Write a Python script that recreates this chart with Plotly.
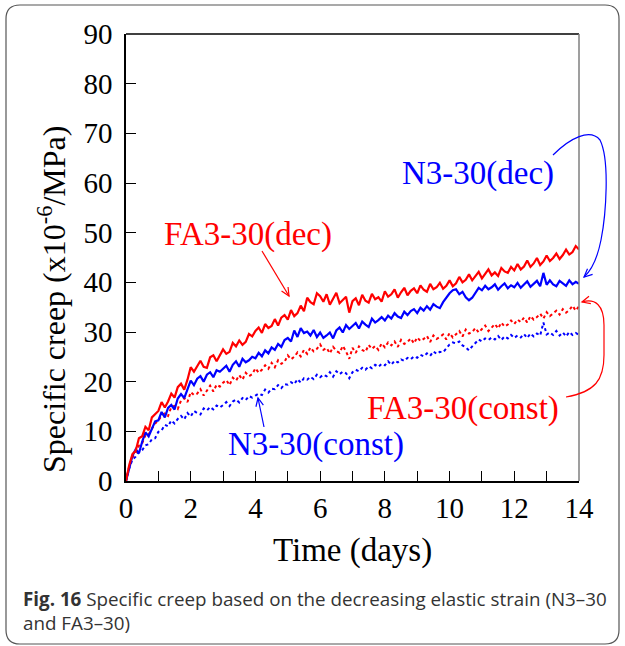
import math
import plotly.graph_objects as go

# ---------------- data ----------------
days = [round(i * 0.1, 1) for i in range(141)]

fa_dec = [0, 3.2, 5.4, 6.1, 8.6, 9.0, 10.9, 10.2, 12.8, 13.5,
          14.1, 15.9, 14.8, 16.0, 17.6, 16.8, 18.9, 19.6, 18.4, 20.4,
          22.9, 22.0, 23.1, 24.2, 23.0, 22.8, 24.9, 25.3, 24.1, 25.2,
          26.5, 25.6, 26.0, 27.8, 27.1, 28.3, 27.4, 28.0, 29.6, 29.1,
          30.2, 30.9, 29.8, 31.6, 30.8, 31.2, 32.6, 31.3, 32.9, 33.4,
          32.5, 34.4, 33.2, 33.8, 35.3, 34.2, 36.9, 36.0, 35.6, 37.8,
          37.2, 36.1, 37.6, 35.5, 36.6, 37.9, 35.8, 36.4, 37.1, 33.9,
          36.2, 36.8, 35.4, 37.5, 36.3, 35.9, 37.7, 36.6, 37.0, 36.1,
          38.2, 37.1, 37.6, 38.6, 36.9, 38.0, 38.9, 37.4, 38.3, 38.8,
          37.8, 39.4, 38.5, 38.1, 39.7, 38.6, 39.0, 39.9, 38.7, 39.3,
          40.4, 39.2, 39.8, 41.1, 40.0, 40.5, 41.6, 40.4, 41.2, 42.1,
          40.8, 41.7, 42.6, 41.4, 42.0, 41.3, 42.9, 42.2, 41.9, 43.1,
          42.4, 43.7, 42.6, 43.2, 44.4, 43.1, 43.8, 44.9, 43.5, 44.2,
          45.4, 44.3, 44.9, 45.8, 44.7, 45.5, 46.6, 45.6, 46.1, 47.3,
          46.6]

n_dec = [0, 2.8, 5.1, 6.4, 5.6, 7.9, 9.8, 9.0, 10.6, 12.0,
         12.2, 13.9, 12.8, 14.7, 15.3, 14.4, 16.6, 17.5, 16.7, 18.3,
         20.2, 19.3, 20.6, 21.1, 20.0, 21.4, 21.9, 20.9, 22.3, 22.0,
         22.6, 23.2, 22.0, 23.4, 24.1, 23.0, 24.6, 23.9, 24.3, 25.0,
         24.7, 25.8, 25.1, 26.3, 25.7, 26.9, 26.4, 27.6, 27.0, 28.4,
         28.8, 28.1, 30.3, 29.0, 30.8, 29.8, 30.1, 29.3, 30.4, 29.0,
         29.9, 28.8, 29.3, 29.9, 28.7, 30.3, 30.9, 29.9, 31.4, 30.6,
         31.2, 31.8, 30.7, 32.1, 31.5, 31.0, 32.7, 31.9, 32.4, 33.0,
         32.3, 33.3, 32.7, 33.8, 33.1, 32.8, 34.1, 33.4, 34.2, 34.6,
         33.8, 34.9, 34.3, 35.2, 34.5, 35.6, 35.1, 34.8, 36.0, 36.9,
         37.8, 38.4, 38.6, 37.6, 38.1, 37.0, 36.4, 36.9, 37.9, 38.9,
         38.4, 39.3, 38.6, 39.0, 39.6, 38.5, 39.2, 39.8, 38.8, 39.4,
         39.0, 39.9, 38.9, 39.5, 40.2, 39.1, 39.7, 40.3, 39.2, 41.9,
         39.5, 40.4, 39.6, 39.2, 40.3, 39.8, 39.3, 40.4, 39.6, 40.1,
         39.7]

fa_const = [0, 3.0, 4.8, 5.7, 7.1, 7.6, 9.2, 9.4, 10.5, 11.6,
            12.1, 13.2, 13.6, 13.1, 14.9, 15.1, 14.5, 16.2, 16.7, 15.9,
            17.9, 17.3, 17.6, 18.5, 17.2, 18.1, 19.2, 18.0, 19.4, 19.0,
            19.8, 20.3, 19.3, 20.8, 20.2, 21.3, 20.4, 21.8, 21.1, 21.5,
            22.7, 21.8, 22.4, 23.3, 22.6, 23.8, 22.9, 24.3, 23.6, 24.0,
            25.3, 24.5, 25.0, 25.9, 25.1, 26.4, 25.6, 26.9, 26.1, 26.6,
            27.5, 26.4, 26.8, 25.7, 27.0, 26.2, 25.8, 27.2, 26.1, 24.6,
            26.8, 25.8, 27.1, 26.4, 26.0, 27.4, 26.6, 27.2, 26.4, 27.7,
            26.9, 27.9, 27.3, 28.1, 27.0, 28.4, 27.6, 28.0, 28.7, 27.7,
            28.9, 28.2, 28.6, 29.2, 28.0, 29.3, 28.6, 29.0, 29.5, 28.5,
            29.8, 28.9, 29.6, 30.2, 29.1, 30.5, 29.7, 30.0, 30.8, 29.9,
            30.6, 31.3, 30.2, 31.0, 31.6, 30.7, 31.9, 31.1, 31.5, 32.3,
            31.6, 32.5, 32.0, 32.9, 31.9, 33.2, 32.5, 33.0, 33.7, 32.7,
            34.0, 33.2, 33.8, 34.3, 33.5, 34.6, 33.9, 34.4, 35.3, 34.3,
            35.2]

n_const = [0, 2.6, 4.3, 4.9, 5.8, 6.2, 7.2, 7.4, 8.4, 8.6,
           9.9, 10.2, 11.3, 11.0, 12.2, 11.6, 12.5, 13.1, 12.4, 13.7,
           13.0, 14.1, 13.7, 13.4, 14.6, 14.2, 14.9, 14.4, 15.2, 14.8,
           15.3, 15.9, 15.1, 16.0, 16.4, 15.8, 16.7, 16.3, 17.1, 16.8,
           17.2, 17.6, 17.3, 18.4, 17.8, 18.6, 18.5, 19.3, 18.7, 19.5,
           19.4, 19.9, 19.5, 20.5, 19.8, 20.7, 20.4, 21.0, 20.5, 21.4,
           20.9, 21.4, 21.1, 21.9, 21.0, 22.1, 21.5, 22.0, 21.7, 20.7,
           21.9, 22.4, 22.1, 22.8, 22.4, 23.1, 22.7, 23.4, 23.0, 23.6,
           23.3, 24.1, 23.4, 24.2, 23.9, 24.5, 24.2, 24.8, 24.5, 25.1,
           24.8, 25.4, 25.1, 25.7, 25.2, 26.1, 25.6, 26.0, 25.9, 26.7,
           27.5, 27.9, 27.7, 28.1, 27.3, 26.9, 26.3, 27.1, 27.7, 28.5,
           28.1, 28.7, 28.4, 28.9, 28.5, 29.2, 28.4, 29.1, 28.7, 29.4,
           28.8, 29.3, 28.9, 29.6, 28.8, 29.7, 29.1, 29.7, 29.3, 31.9,
           29.5, 29.9, 29.4, 30.2, 29.3, 29.9, 29.1, 30.0, 29.4, 29.8,
           29.4]

x_ticks = [0, 2, 4, 6, 8, 10, 12, 14]
y_ticks = [0, 10, 20, 30, 40, 50, 60, 70, 80, 90]

RED = "#ff0000"
BLUE = "#0000ff"
SERIF = "Liberation Serif, Times New Roman, serif"

# ---------------- layout geometry (pixels) ----------------
W, H = 625, 646
L, R, T, B = 126, 579, 34, 481   # plot area edges


def px(x, y):
    """pixel -> paper coordinates"""
    return (x - L) / (R - L), (B - y) / (B - T)


def path(cmds):
    out = []
    for c in cmds:
        if isinstance(c, str):
            out.append(c)
        else:
            a, b = px(*c)
            out.append(f"{a:.5f},{b:.5f}")
    return " ".join(out)


fig = go.Figure()
fig.add_trace(go.Scatter(x=days, y=n_const, mode="lines",
                         line=dict(color=BLUE, width=2, dash="dot"), name="N3-30(const)"))
fig.add_trace(go.Scatter(x=days, y=fa_const, mode="lines",
                         line=dict(color=RED, width=2, dash="dot"), name="FA3-30(const)"))
fig.add_trace(go.Scatter(x=days, y=n_dec, mode="lines",
                         line=dict(color=BLUE, width=2.2), name="N3-30(dec)"))
fig.add_trace(go.Scatter(x=days, y=fa_dec, mode="lines",
                         line=dict(color=RED, width=2.2), name="FA3-30(dec)"))

shapes = []
# top and right frame lines
shapes.append(dict(type="line", xref="paper", yref="paper", x0=0, x1=1, y0=1, y1=1,
                   line=dict(color="black", width=1.5)))
shapes.append(dict(type="line", xref="paper", yref="paper", x0=1, x1=1, y0=0, y1=1,
                   line=dict(color="#7f7f7f", width=1.5)))

# outer rounded border
x0b, x1b, y0b, y1b, r = 6, 619, 5, 644, 14
shapes.append(dict(type="path", xref="paper", yref="paper",
                   path=path(["M", (x0b + r, y0b), "L", (x1b - r, y0b), "Q", (x1b, y0b), (x1b, y0b + r),
                              "L", (x1b, y1b - r), "Q", (x1b, y1b), (x1b - r, y1b),
                              "L", (x0b + r, y1b), "Q", (x0b, y1b), (x0b, y1b - r),
                              "L", (x0b, y0b + r), "Q", (x0b, y0b), (x0b + r, y0b), "Z"]),
                   line=dict(color="#555555", width=1.2)))


def arrow_head(tip, frm, color, size=9):
    dx, dy = frm[0] - tip[0], frm[1] - tip[1]
    d = math.hypot(dx, dy)
    ux, uy = dx / d, dy / d
    ang = math.radians(25)
    p1 = (tip[0] + size * (ux * math.cos(ang) - uy * math.sin(ang)),
          tip[1] + size * (ux * math.sin(ang) + uy * math.cos(ang)))
    p2 = (tip[0] + size * (ux * math.cos(-ang) - uy * math.sin(-ang)),
          tip[1] + size * (ux * math.sin(-ang) + uy * math.cos(-ang)))
    return dict(type="path", xref="paper", yref="paper",
                path=path(["M", p1, "L", tip, "L", p2]),
                line=dict(color=color, width=1.2))


# FA3-30(dec) straight arrow
shapes.append(dict(type="path", xref="paper", yref="paper",
                   path=path(["M", (262, 251), "L", (289, 296)]), line=dict(color=RED, width=1.2)))
shapes.append(arrow_head((289, 296), (262, 251), RED))
# N3-30(const) straight arrow
shapes.append(dict(type="path", xref="paper", yref="paper",
                   path=path(["M", (264, 427), "L", (258, 398)]), line=dict(color=BLUE, width=1.2)))
shapes.append(arrow_head((258, 398), (264, 427), BLUE))
# N3-30(dec) curved arrow
shapes.append(dict(type="path", xref="paper", yref="paper",
                   path=path(["M", (553, 155), "C", (570, 138), (590, 128), (600, 140),
                              "C", (610, 160), (606, 215), (601, 240),
                              "C", (597, 260), (592, 270), (584, 277)]),
                   line=dict(color=BLUE, width=1.2)))
shapes.append(arrow_head((584, 277), (594, 268), BLUE))
# FA3-30(const) curved arrow
shapes.append(dict(type="path", xref="paper", yref="paper",
                   path=path(["M", (566, 397), "C", (595, 392), (604, 380), (604, 355),
                              "L", (604, 325), "C", (604, 305), (595, 298), (582, 302)]),
                   line=dict(color=RED, width=1.2)))
shapes.append(arrow_head((582, 302), (594, 299), RED))

annotations = []


def label(text, cx, cy, color):
    a, b = px(cx, cy)
    annotations.append(dict(text=text, x=a, y=b, xref="paper", yref="paper",
                            xanchor="center", yanchor="middle", showarrow=False,
                            font=dict(family=SERIF, size=33, color=color)))


label("FA3-30(dec)", 248, 234, RED)
label("N3-30(dec)", 478, 173, BLUE)
label("FA3-30(const)", 463, 408, RED)
label("N3-30(const)", 316, 444, BLUE)

# y-axis title (placed as annotation to match position)
a, b = px(52, 300)
annotations.append(dict(text="Specific creep (x10<sup>-6</sup>/MPa)", x=a, y=b, xref="paper", yref="paper",
                        xanchor="center", yanchor="middle", showarrow=False, textangle=-90,
                        font=dict(family=SERIF, size=32, color="black")))
# x-axis title
a, b = px(352, 550)
annotations.append(dict(text="Time (days)", x=a, y=b, xref="paper", yref="paper",
                        xanchor="center", yanchor="middle", showarrow=False,
                        font=dict(family=SERIF, size=33, color="black")))
# caption
a, b = px(21, 611)
annotations.append(dict(text="<b>Fig. 16</b> Specific creep based on the decreasing elastic strain (N3–30<br>and FA3–30)",
                        x=a, y=b, xref="paper", yref="paper", xanchor="left", yanchor="middle",
                        align="left", showarrow=False,
                        font=dict(family="Open Sans, sans-serif", size=18.8, color="#333333")))

fig.update_layout(
    width=W, height=H,
    margin=dict(l=L, r=W - R, t=T, b=H - B, pad=0),
    paper_bgcolor="white", plot_bgcolor="white",
    showlegend=False,
    shapes=shapes, annotations=annotations,
    xaxis=dict(range=[0, 14], tickvals=x_ticks, ticks="inside", ticklen=10, tickwidth=1.2,
               tickcolor="black", showline=True, linecolor="black", linewidth=1.5,
               showgrid=False, zeroline=False,
               minor=dict(dtick=1, ticks="inside", ticklen=10, tickwidth=1.2, tickcolor="black", showgrid=False),
               tickfont=dict(family=SERIF, size=29, color="black")),
    yaxis=dict(range=[0, 90], tickvals=y_ticks, ticks="inside", ticklen=10, tickwidth=1.2,
               tickcolor="black", showline=True, linecolor="black", linewidth=1.5,
               showgrid=False, zeroline=False, ticklabelstandoff=6,
               tickfont=dict(family=SERIF, size=29, color="black")),
)

fig.write_html("out.html", config={"displayModeBar": False},
               post_script="document.body.style.margin='0px';")
